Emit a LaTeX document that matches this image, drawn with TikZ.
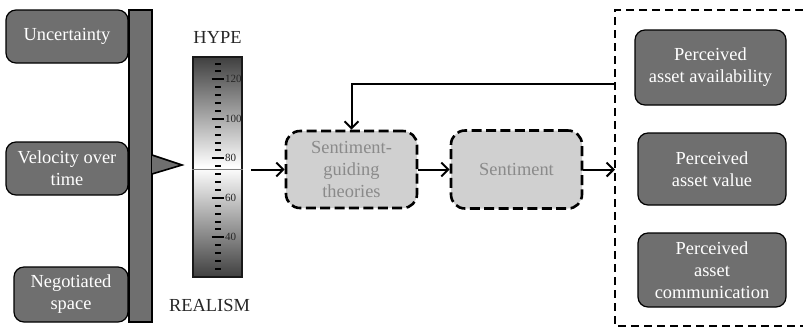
\documentclass[tikz,border=0pt]{standalone}
\usepackage{tikz}
\usepackage{xcolor}
\usepackage{fontspec}
\setmainfont{Liberation Serif}
\usetikzlibrary{arrows.meta,positioning}
\definecolor{boxgray}{HTML}{6F6F6F}
\definecolor{sentgray}{HTML}{D0D0D0}
\definecolor{sentext}{HTML}{8A8A8A}

\begin{document}
\begin{tikzpicture}[x=0.5pt,y=-0.5pt,>={Straight Barb[length=3.5pt,width=7pt]},semithick]
			\tikzstyle{factor}=[draw=black,line width=0.6pt,fill=boxgray,rounded corners=5pt,text=white,align=center,inner sep=1pt,font=\rmfamily\fontsize{9.2}{11}\selectfont]
			\tikzstyle{sentbox}=[draw=black,line width=1.3pt,dash pattern=on 5pt off 2.2pt,fill=sentgray,rounded corners=7pt,text=sentext,align=center,inner sep=1pt,font=\rmfamily\fontsize{9.2}{11}\selectfont]
			\tikzstyle{link}=[->,line width=1pt]
			\tikzstyle{scalelabel}=[font=\rmfamily\fontsize{9.2}{10}\selectfont,text=black!85]
			\useasboundingbox (0,0) rectangle (803,328);
			% factors on the left
			\node[factor,minimum width=61pt,minimum height=26.5pt] (unc) at (67,36.5) {Uncertainty};
			\node[factor,minimum width=61pt,minimum height=26.5pt] (vel) at (67,168.5) {Velocity over\\time};
			\node[factor,minimum width=57pt,minimum height=27.5pt] (neg) at (71,294.5) {Negotiated\\space};
			\node[draw=black,line width=0.6pt,fill=boxgray,minimum width=11.5pt,minimum height=156pt,inner sep=0pt] (bar) at (140.5,166) {};
			\fill[boxgray] (152,155) -- (182,165) -- (152,174) -- cycle;
			\draw[line width=0.8pt] (152,155) -- (182,165) -- (152,174);
			% hype / realism scale
			\node[scalelabel] (hype) at (217.5,37) {HYPE};
			\node[scalelabel] (real) at (209.5,305) {REALISM};
			\node[draw=black!90,line width=0.8pt,top color=black!75,bottom color=black!75,middle color=white,minimum width=24.5pt,minimum height=110pt,inner sep=0pt] (gauge) at (217.5,167) {};
			\foreach \v in {24,28,...,128}
				\draw[line width=1pt] (215,{158.3+(80-\v)*1.975}) -- (221,{158.3+(80-\v)*1.975});
			\foreach \v in {40,60,...,120}
				\draw[line width=1pt] (211.5,{158.3+(80-\v)*1.975}) -- (223.5,{158.3+(80-\v)*1.975})
					node[right,inner sep=0.3pt,font=\rmfamily\fontsize{5.5}{6}\selectfont,text=black!85] {\v};
			\draw[black!50,line width=0.6pt] (gauge.west |- 0,169.3) -- (gauge.east |- 0,169.3);
			% sentiment
			\node[sentbox,minimum width=65.5pt,minimum height=38.5pt] (theo) at (351.5,169.5) {Sentiment-\\guiding\\theories};
			\node[sentbox,minimum width=65.5pt,minimum height=39pt] (sent) at (516.5,169.5) {Sentiment};
			% perceived asset
			\draw[line width=0.8pt,dash pattern=on 4pt off 2.5pt] (803,10) -| (615,326) -- (803,326);
			\coordinate (fbin) at (615,169.5);
			\coordinate (fbout) at (615,84);
			\node[factor,minimum width=75.5pt,minimum height=37.5pt] (avail) at (710.5,67.5) {Perceived\\asset availability};
			\node[factor,minimum width=74pt,minimum height=36pt] (val) at (712,169) {Perceived\\asset value};
			\node[factor,minimum width=74pt,minimum height=37pt] (comm) at (712,270) {Perceived\\asset\\communication};
			\draw[link,shorten <=4pt] (gauge.east |- theo.west) -- (theo.west);
			\draw[link] (theo) -- (sent);
			\draw[link] (sent) -- (fbin);
			\draw[link] (fbout) -| (theo.north);
		\end{tikzpicture}
\end{document}
